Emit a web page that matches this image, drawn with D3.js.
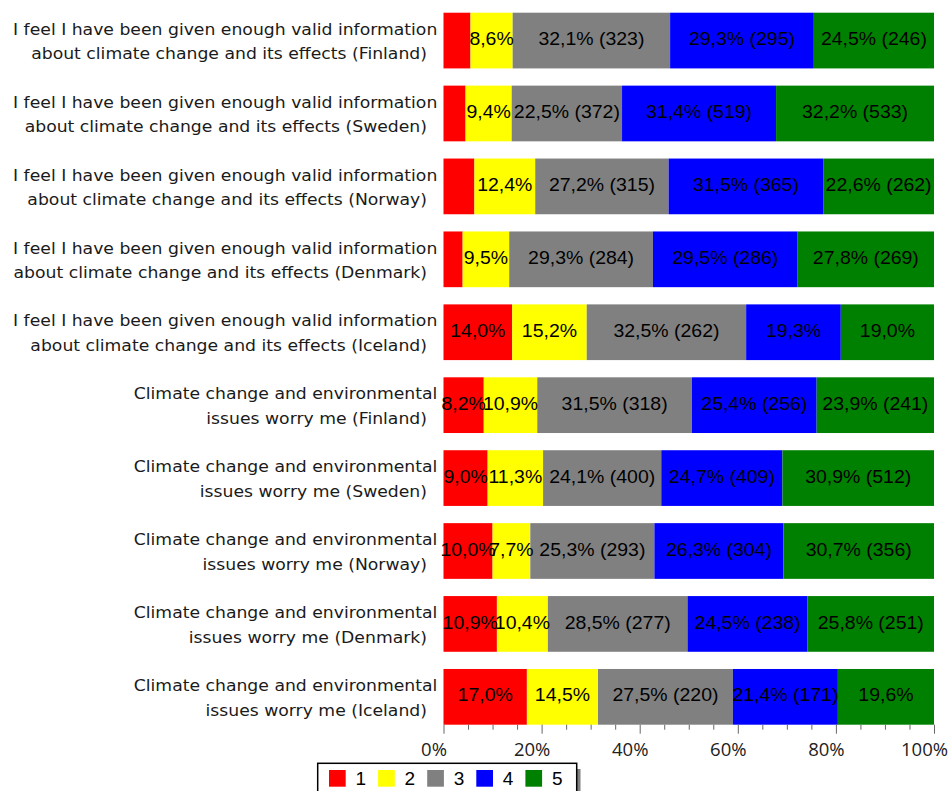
<!DOCTYPE html>
<html>
<head>
<meta charset="utf-8">
<script src="https://cdn.jsdelivr.net/npm/d3@7/dist/d3.min.js"></script>
<style>
  body { margin: 0; background: #fff; }
  svg { display: block; }
</style>
</head>
<body>
<svg id="chart" width="951" height="791"></svg>
<script>
// Survey statements (two lines each), one bar per statement
const categories = [
  ["I feel I have been given enough valid information", "about climate change and its effects (Finland)"],
  ["I feel I have been given enough valid information", "about climate change and its effects (Sweden)"],
  ["I feel I have been given enough valid information", "about climate change and its effects (Norway)"],
  ["I feel I have been given enough valid information", "about climate change and its effects (Denmark)"],
  ["I feel I have been given enough valid information", "about climate change and its effects (Iceland)"],
  ["Climate change and environmental", "issues worry me (Finland)"],
  ["Climate change and environmental", "issues worry me (Sweden)"],
  ["Climate change and environmental", "issues worry me (Norway)"],
  ["Climate change and environmental", "issues worry me (Denmark)"],
  ["Climate change and environmental", "issues worry me (Iceland)"]
];

const responseLevels = ["1", "2", "3", "4", "5"];
const levelColors = ["#ff0000", "#ffff00", "#808080", "#0000ff", "#008000"];

// Share of respondents (%) per answer level
const share1 = [5.5, 4.5, 6.3, 3.9, 14.0, 8.2, 9.0, 10.0, 10.9, 17.0];
const share2 = [8.6, 9.4, 12.4, 9.5, 15.2, 10.9, 11.3, 7.7, 10.4, 14.5];
const share3 = [32.1, 22.5, 27.2, 29.3, 32.5, 31.5, 24.1, 25.3, 28.5, 27.5];
const share4 = [29.3, 31.4, 31.5, 29.5, 19.3, 25.4, 24.7, 26.3, 24.5, 21.4];
const share5 = [24.5, 32.2, 22.6, 27.8, 19.0, 23.9, 30.9, 30.7, 25.8, 19.6];

// Respondent counts printed next to the share (null = not printed)
const count1 = [null, null, null, null, null, null, null, null, null, null];
const count2 = [null, null, null, null, null, null, null, null, null, null];
const count3 = [323, 372, 315, 284, 262, 318, 400, 293, 277, 220];
const count4 = [295, 519, 365, 286, null, 256, 409, 304, 238, 171];
const count5 = [246, 533, 262, 269, null, 241, 512, 356, 251, null];

// Whether a segment carries a value label
const labelled1 = [false, false, false, false, true, true, true, true, true, true];
const labelled2 = [true, true, true, true, true, true, true, true, true, true];
const labelled3 = [true, true, true, true, true, true, true, true, true, true];
const labelled4 = [true, true, true, true, true, true, true, true, true, true];
const labelled5 = [true, true, true, true, true, true, true, true, true, true];

const majorTicks = [0, 20, 40, 60, 80, 100];
const minorTicks = [5, 10, 15, 25, 30, 35, 45, 50, 55, 65, 70, 75, 85, 90, 95];

const shares = [share1, share2, share3, share4, share5];
const counts = [count1, count2, count3, count4, count5];
const labelled = [labelled1, labelled2, labelled3, labelled4, labelled5];

const rows = categories.map((c, i) => {
  const r = { idx: i };
  responseLevels.forEach((k, j) => { r[k] = shares[j][i]; });
  return r;
});

const svg = d3.select("#chart");

const plot = { left: 443.5, right: 934, top: 4.1, bottom: 733.3 };

const x = d3.scaleLinear().domain([0, 1]).range([plot.left, plot.right]);
const y = d3.scaleBand()
  .domain(d3.range(categories.length))
  .range([plot.top, plot.bottom])
  .paddingInner(0.236)
  .paddingOuter(0.118);

// 100% stacked: each bar normalised to its own total
const stacked = d3.stack().keys(responseLevels).offset(d3.stackOffsetExpand)(rows);

const fmt = v => v.toFixed(1).replace(".", ",") + "%";

const layers = svg.append("g").selectAll("g.layer")
  .data(stacked)
  .join("g")
  .attr("class", "layer")
  .attr("fill", (d, j) => levelColors[j]);

layers.selectAll("rect")
  .data(d => d)
  .join("rect")
  .attr("x", d => x(d[0]))
  .attr("y", d => y(d.data.idx))
  .attr("width", d => x(d[1]) - x(d[0]))
  .attr("height", y.bandwidth());

// Value labels
const labelGroup = svg.append("g")
  .attr("font-family", "'Liberation Sans', Arial, sans-serif")
  .attr("font-size", "17.7px")
  .attr("fill", "#000");

stacked.forEach((layer, j) => {
  layer.forEach(d => {
    const i = d.data.idx;
    if (!labelled[j][i]) return;
    const n = counts[j][i];
    const txt = fmt(shares[j][i]) + (n != null ? " (" + n + ")" : "");
    const cx = (x(d[0]) + x(d[1])) / 2;
    const cy = y(i) + y.bandwidth() / 2 + 4.6;
    labelGroup.append("text")
      .attr("text-anchor", "middle")
      .attr("transform", `translate(${cx},${cy}) scale(1.1,1)`)
      .text(txt);
  });
});

// Category labels
const catGroup = svg.append("g")
  .attr("font-family", "'DejaVu Sans', Verdana, sans-serif")
  .attr("font-size", "16.5px")
  .attr("fill", "#1a1a1a");

// measure a reference line for horizontal condensing
const probe = catGroup.append("text").text(categories[0][0]);
const probeWidth = probe.node().getComputedTextLength();
probe.remove();
const squeeze = 424.6 / probeWidth;

categories.forEach((lines, i) => {
  const cy = y(i) + y.bandwidth() / 2;
  catGroup.append("text")
    .attr("text-anchor", "end")
    .attr("transform", `translate(437.3,${cy - 5.8}) scale(${squeeze},1)`)
    .text(lines[0]);
  catGroup.append("text")
    .attr("text-anchor", "end")
    .attr("transform", `translate(427,${cy + 18.8}) scale(${squeeze},1)`)
    .text(lines[1]);
});

// X axis: minor and major ticks
const axisY = y(categories.length - 1) + y.bandwidth();

const minorAxis = svg.append("g")
  .attr("transform", `translate(0,${axisY})`)
  .call(d3.axisBottom(x).tickValues(minorTicks.map(v => v / 100)).tickSize(5).tickFormat(""));
minorAxis.select(".domain").remove();
minorAxis.selectAll("line").attr("stroke", "#666");

const majorAxis = svg.append("g")
  .attr("transform", `translate(0,${axisY})`)
  .call(d3.axisBottom(x).tickValues(majorTicks.map(v => v / 100)).tickSize(9)
    .tickFormat(d => Math.round(d * 100) + "%"));
majorAxis.select(".domain").remove();
majorAxis.selectAll("line").attr("stroke", "#666");
majorAxis.selectAll("text")
  .attr("font-family", "'Open Sans', sans-serif")
  .attr("font-size", "18.5px")
  .attr("fill", "#222")
  .attr("x", -10)
  .attr("y", 31.5)
  .attr("dy", null);

// Legend
const legend = svg.append("g");
legend.append("rect")
  .attr("x", 321.5).attr("y", 769)
  .attr("width", 259).attr("height", 40)
  .attr("fill", "#808080");
legend.append("rect")
  .attr("x", 317.7).attr("y", 763.3)
  .attr("width", 259).attr("height", 40)
  .attr("fill", "#fff")
  .attr("stroke", "#000")
  .attr("stroke-width", 1.5);

const items = legend.selectAll("g.item")
  .data(responseLevels)
  .join("g")
  .attr("class", "item")
  .attr("transform", (d, i) => `translate(${329 + i * 49.1},770)`);
items.append("rect")
  .attr("width", 16.7).attr("height", 16.7)
  .attr("fill", (d, i) => levelColors[i]);
items.append("text")
  .attr("x", 26.5).attr("y", 15.3)
  .attr("font-family", "'Liberation Sans', Arial, sans-serif")
  .attr("font-size", "19px")
  .attr("fill", "#000")
  .text(d => d);
</script>
</body>
</html>
